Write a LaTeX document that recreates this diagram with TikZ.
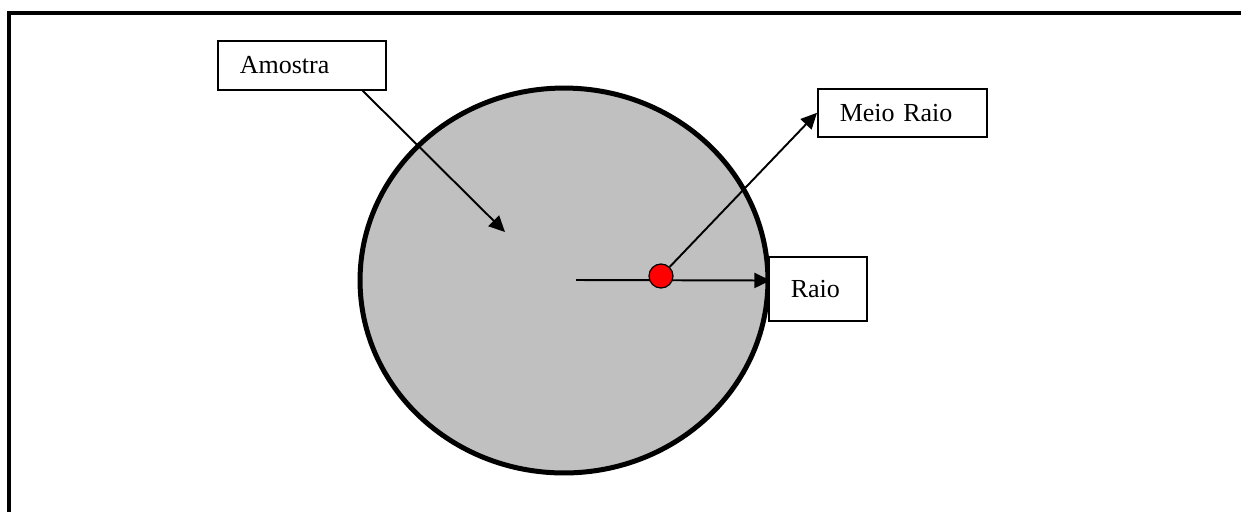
\documentclass[tikz,border=0pt]{standalone}
\usepackage{fontspec}
\setmainfont{Liberation Serif}
\usetikzlibrary{arrows.meta,shapes.geometric}
\definecolor{prata}{RGB}{192,192,192}
\tikzset{
	rotulo/.style={draw, fill=white, line width=0.9pt, anchor=north west, inner xsep=0.44cm, inner ysep=0pt, align=left, font=\fontsize{14.8}{17}\selectfont},
	seta/.style={line width=1.1pt, -{Triangle[length=0.32cm,width=0.3cm]}}
}
\begin{document}
\begin{tikzpicture}[x=0.02cm, y=-0.02cm]
		\useasboundingbox (0,0) rectangle (1241,512);
		
		% Moldura (so topo e lado esquerdo)
		\draw[line width=0.08cm] (9,512) |- (1241,13);
		
		% Amostra
		\node[draw, ellipse, fill=prata, line width=0.1cm, minimum width=8.16cm, minimum height=7.7cm, inner sep=0] (disco) at (564,280.5) {};
		\coordinate (centro) at (576,280);
		\coordinate (alvo) at (505,232);
		
		% Raio
		\draw[seta] (centro) -- (disco.east);
		\node[circle, draw, fill=red, line width=0.7pt, minimum size=0.48cm, inner sep=0] (ponto) at (661,276) {};
		
		% Caixas de texto
		\node[rotulo, text width=2.48cm, minimum height=0.98cm] (lblAmostra) at (217,40) {Amostra};
		\node[rotulo, text width=2.5cm, minimum height=0.96cm] (lblMeio) at (817,88) {Meio Raio};
		\node[rotulo, text width=1.08cm, minimum height=1.28cm] (lblRaio) at (768,256) {Raio};
		
		\draw[seta] (ponto) -- (lblMeio.west);
		\draw[seta] ([xshift=-0.48cm]lblAmostra.south east) -- (alvo);
		
	\end{tikzpicture}
\end{document}
